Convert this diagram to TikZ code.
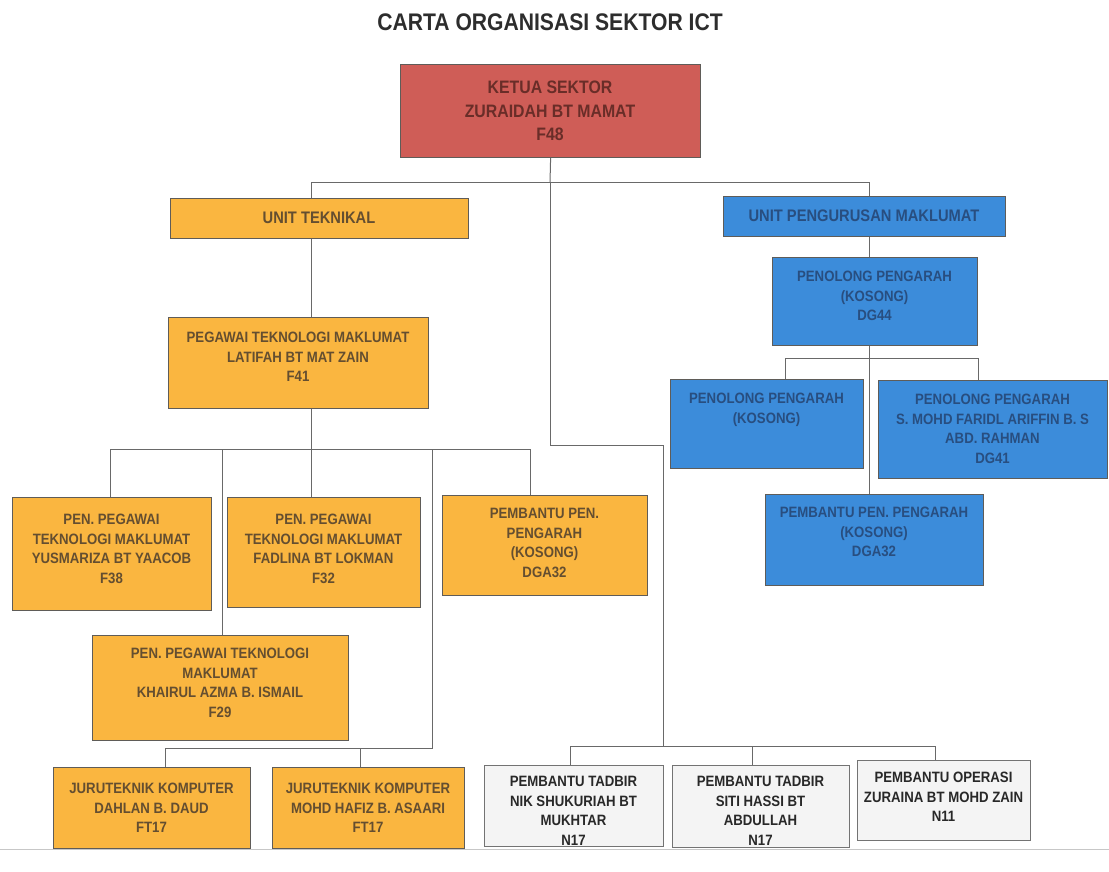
\documentclass[tikz,border=0pt]{standalone}
\usepackage{fontspec}
\newfontfamily\chartfont{Liberation Sans}[FakeStretch=0.88]
\usetikzlibrary{calc}

\definecolor{ketuared}{RGB}{207,93,87}
\definecolor{tekorange}{RGB}{250,182,64}
\definecolor{infoblue}{RGB}{60,140,218}
\definecolor{adminwhite}{RGB}{244,244,244}
\definecolor{linegray}{RGB}{105,105,105}
\definecolor{edgegray}{RGB}{95,92,88}
\definecolor{redtext}{RGB}{105,45,40}
\definecolor{orangetext}{RGB}{100,78,48}
\definecolor{bluetext}{RGB}{40,78,128}
\definecolor{admintext}{RGB}{40,40,40}
\definecolor{titletext}{RGB}{45,45,45}

\tikzset{
  box/.style={rectangle, draw=edgegray, line width=1.2pt, inner sep=0pt},
  ketuabox/.style={box, fill=ketuared},
  tekbox/.style={box, fill=tekorange},
  infobox/.style={box, fill=infoblue},
  adminbox/.style={box, fill=adminwhite, draw=black!55},
  txt/.style={anchor=north, align=center, inner sep=0pt,
    font=\chartfont\bfseries\fontsize{15}{19.5}\selectfont},
  ketuatxt/.style={txt, text=redtext,
    font=\chartfont\bfseries\fontsize{18}{23.5}\selectfont},
  unittekt/.style={txt, text=orangetext,
    font=\chartfont\bfseries\fontsize{16.7}{20}\selectfont},
  unitinfot/.style={txt, text=bluetext,
    font=\chartfont\bfseries\fontsize{16.7}{20}\selectfont},
  tektxt/.style={txt, text=orangetext},
  infotxt/.style={txt, text=bluetext},
  admintxt/.style={txt, text=admintext},
  conn/.style={draw=linegray, line width=1pt},
  scanline/.style={draw=black!22, line width=1pt},
}

% #1 name, #2 box style, #3 x1, #4 y1, #5 x2, #6 y2, #7 top of text, #8 text style, #9 text
\newcommand{\orgbox}[9]{%
  \node[#2, minimum width={(#5-#3)*1pt}, minimum height={(#6-#4)*1pt},
        anchor=north west] (#1) at (#3,#4) {};
  \node[#8] (#1-text) at ({(#3+#5)/2},#7) {#9};
}

\begin{document}
\begin{tikzpicture}[x=1pt, y=-1pt]
\useasboundingbox (0,0) rectangle (1109,872);

\node[inner sep=0pt, text=titletext,
      font=\chartfont\bfseries\fontsize{24}{28}\selectfont] (title) at (550,22)
      {CARTA ORGANISASI SEKTOR ICT};

% head of sector
\orgbox{ketua}{ketuabox}{400}{64}{700}{157}{81}{ketuatxt}
  {KETUA SEKTOR\\ZURAIDAH BT MAMAT\\F48}

% units
\orgbox{teknikal}{tekbox}{170}{198}{468}{238}{212}{unittekt}{UNIT TEKNIKAL}
\orgbox{pengurusan}{infobox}{723}{196}{1005}{236}{210}{unitinfot}{UNIT PENGURUSAN MAKLUMAT}

% technical unit
\orgbox{latifah}{tekbox}{168}{317}{428}{408}{332}{tektxt}
  {PEGAWAI TEKNOLOGI MAKLUMAT\\LATIFAH BT MAT ZAIN\\F41}
\orgbox{yusmariza}{tekbox}{12}{497}{211}{610}{514}{tektxt}
  {PEN. PEGAWAI\\TEKNOLOGI MAKLUMAT\\YUSMARIZA BT YAACOB\\F38}
\orgbox{fadlina}{tekbox}{227}{497}{420}{607}{514}{tektxt}
  {PEN. PEGAWAI\\TEKNOLOGI MAKLUMAT\\FADLINA BT LOKMAN\\F32}
\orgbox{pembantupen}{tekbox}{442}{495}{647}{595}{508}{tektxt}
  {PEMBANTU PEN.\\PENGARAH\\(KOSONG)\\DGA32}
\orgbox{khairul}{tekbox}{92}{635}{348}{740}{648}{tektxt}
  {PEN. PEGAWAI TEKNOLOGI\\MAKLUMAT\\KHAIRUL AZMA B. ISMAIL\\F29}
\orgbox{dahlan}{tekbox}{53}{767}{250}{848}{783}{tektxt}
  {JURUTEKNIK KOMPUTER\\DAHLAN B. DAUD\\FT17}
\orgbox{hafiz}{tekbox}{272}{767}{464}{848}{783}{tektxt}
  {JURUTEKNIK KOMPUTER\\MOHD HAFIZ B. ASAARI\\FT17}

% information management unit
\orgbox{pp44}{infobox}{772}{257}{977}{345}{271}{infotxt}
  {PENOLONG PENGARAH\\(KOSONG)\\DG44}
\orgbox{ppkosong}{infobox}{670}{379}{863}{468}{393}{infotxt}
  {PENOLONG PENGARAH\\(KOSONG)}
\orgbox{ppfaridl}{infobox}{878}{380}{1107}{478}{394}{infotxt}
  {PENOLONG PENGARAH\\S. MOHD FARIDL ARIFFIN B. S\\ABD. RAHMAN\\DG41}
\orgbox{ppbantu}{infobox}{765}{494}{983}{585}{507}{infotxt}
  {PEMBANTU PEN. PENGARAH\\(KOSONG)\\DGA32}

% administration staff
\orgbox{nik}{adminbox}{484}{765}{663}{846}{776}{admintxt}
  {PEMBANTU TADBIR\\NIK SHUKURIAH BT\\MUKHTAR\\N17}
\orgbox{siti}{adminbox}{672}{765}{849}{847}{776}{admintxt}
  {PEMBANTU TADBIR\\SITI HASSI BT\\ABDULLAH\\N17}
\orgbox{zuraina}{adminbox}{857}{760}{1030}{840}{772}{admintxt}
  {PEMBANTU OPERASI\\ZURAINA BT MOHD ZAIN\\N11}

% junction points of the connectors
\coordinate (hTop) at (550,183);
\coordinate (colT) at (311,0);
\coordinate (colP) at (869,0);
\coordinate (cBend) at (550,445);
\coordinate (cJoin) at (663,746);
\coordinate (adminL) at (570,746);
\coordinate (adminM) at (752,746);
\coordinate (adminR) at (935,746);
\coordinate (rowL) at (110,449);
\coordinate (rowR) at (530,449);
\coordinate (khx) at (222,449);
\coordinate (jtTop) at (432,449);
\coordinate (jtBend) at (432,748);
\coordinate (jtL) at (165,748);
\coordinate (jtM) at (360,748);
\coordinate (ppL) at (785,358);
\coordinate (ppR) at (978,358);

% head of sector to the units
\draw[conn] (ketua.south) -- (hTop);
\draw[conn] (hTop) -| (teknikal.north -| colT);
\draw[conn] (hTop) -| (pengurusan.north -| colP);

% head of sector to the administration staff
\draw[conn] (hTop) -- (cBend) -| (cJoin);
\draw[conn] (nik.north -| adminL) -- (adminL) -- (adminR) -- (zuraina.north -| adminR);
\draw[conn] (adminM) -- (siti.north -| adminM);

% technical unit
\draw[conn] (teknikal.south -| colT) -- (latifah.north -| colT);
\draw[conn] (latifah.south -| colT) -- (fadlina.north -| colT);
\draw[conn] (yusmariza.north -| rowL) -- (rowL) -- (rowR) -- (pembantupen.north -| rowR);
\draw[conn] (khx) -- (khairul.north -| khx);
\draw[conn] (jtTop) -- (jtBend) -- (jtL) -- (dahlan.north -| jtL);
\draw[conn] (jtM) -- (hafiz.north -| jtM);

% information management unit
\draw[conn] (pengurusan.south -| colP) -- (pp44.north -| colP);
\draw[conn] (pp44.south -| colP) -- (ppbantu.north -| colP);
\draw[conn] (ppkosong.north -| ppL) -- (ppL) -- (ppR) -- (ppfaridl.north -| ppR);

% lower edge of the sheet
\draw[scanline] (0,849) -- (1109,849);
\end{tikzpicture}
\end{document}
